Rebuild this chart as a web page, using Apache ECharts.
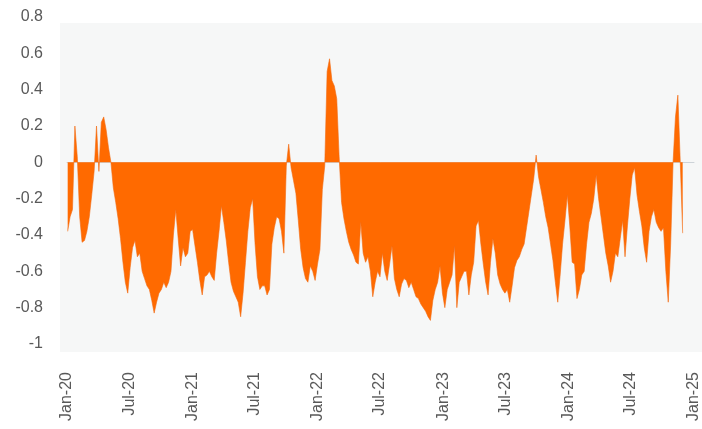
<!DOCTYPE html>
<html>
<head>
<meta charset="utf-8">
<script src="https://cdn.jsdelivr.net/npm/echarts@6/dist/echarts.min.js"></script>
<style>
html,body{margin:0;padding:0;background:#fff;}
#chart{width:702px;height:429px;}
</style>
</head>
<body>
<div id="chart"></div>
<script>
// Weekly observations starting 2020-01-03
var startDate = '2020-01-03';
var weeklyValues = [
-0.38,-0.30,-0.26,0.20,0.03,-0.30,-0.44,-0.43,-0.38,-0.30,
-0.18,-0.05,0.20,-0.05,0.22,0.25,0.18,0.08,0.00,-0.14,
-0.22,-0.31,-0.42,-0.55,-0.66,-0.72,-0.58,-0.47,-0.43,-0.52,
-0.50,-0.60,-0.64,-0.68,-0.70,-0.76,-0.83,-0.77,-0.72,-0.70,
-0.66,-0.69,-0.66,-0.60,-0.40,-0.26,-0.42,-0.57,-0.47,-0.52,
-0.50,-0.38,-0.37,-0.46,-0.55,-0.65,-0.73,-0.63,-0.62,-0.60,
-0.63,-0.65,-0.50,-0.38,-0.24,-0.33,-0.43,-0.55,-0.66,-0.71,
-0.74,-0.77,-0.85,-0.72,-0.55,-0.38,-0.25,-0.20,-0.45,-0.63,
-0.70,-0.68,-0.68,-0.73,-0.70,-0.45,-0.36,-0.30,-0.31,-0.38,
-0.50,-0.02,0.10,-0.03,-0.10,-0.17,-0.32,-0.48,-0.58,-0.64,
-0.66,-0.57,-0.60,-0.65,-0.56,-0.48,-0.15,-0.02,0.50,0.57,
0.45,0.42,0.35,0.03,-0.22,-0.31,-0.38,-0.44,-0.48,-0.51,
-0.55,-0.56,-0.33,-0.50,-0.55,-0.52,-0.60,-0.74,-0.66,-0.60,
-0.63,-0.50,-0.60,-0.65,-0.56,-0.46,-0.64,-0.70,-0.74,-0.67,
-0.64,-0.65,-0.69,-0.66,-0.70,-0.74,-0.75,-0.78,-0.80,-0.82,
-0.85,-0.87,-0.76,-0.70,-0.66,-0.57,-0.72,-0.80,-0.70,-0.66,
-0.62,-0.46,-0.80,-0.66,-0.63,-0.60,-0.60,-0.73,-0.62,-0.55,
-0.35,-0.32,-0.45,-0.56,-0.66,-0.73,-0.55,-0.42,-0.50,-0.62,
-0.67,-0.70,-0.72,-0.70,-0.77,-0.68,-0.58,-0.54,-0.52,-0.48,
-0.45,-0.36,-0.27,-0.18,-0.09,0.04,-0.08,-0.15,-0.22,-0.30,
-0.36,-0.45,-0.54,-0.66,-0.77,-0.62,-0.45,-0.32,-0.18,-0.35,
-0.55,-0.56,-0.75,-0.70,-0.62,-0.60,-0.45,-0.33,-0.28,-0.20,
-0.07,-0.20,-0.30,-0.40,-0.50,-0.57,-0.66,-0.60,-0.50,-0.52,
-0.42,-0.32,-0.52,-0.35,-0.20,-0.07,-0.03,-0.18,-0.27,-0.35,
-0.47,-0.55,-0.38,-0.30,-0.26,-0.33,-0.36,-0.38,-0.36,-0.60,
-0.77,-0.45,0.00,0.25,0.37,0.00,-0.39
];
var tickLabels = ['Jan-20','Jul-20','Jan-21','Jul-21','Jan-22','Jul-22','Jan-23','Jul-23','Jan-24','Jul-24','Jan-25'];
var tickDates = ['2020-01-01','2020-07-01','2021-01-01','2021-07-01','2022-01-01','2022-07-01','2023-01-01','2023-07-01','2024-01-01','2024-07-01','2025-01-01'];
var yTicks = [0.8,0.6,0.4,0.2,0,-0.2,-0.4,-0.6,-0.8,-1];

function parseLocal(s){var p=s.split('-');return new Date(+p[0],+p[1]-1,+p[2]).getTime();}
var t0 = parseLocal(startDate);
var seriesData = weeklyValues.map(function(v,i){
  var d = new Date(t0); d.setDate(d.getDate()+7*i);
  return [d.getTime(), v];
});
var tickTimes = tickDates.map(parseLocal);
var labelMap = {};
tickTimes.forEach(function(t,i){labelMap[t]=tickLabels[i];});

var chart = echarts.init(document.getElementById('chart'), null, {renderer:'canvas'});
chart.setOption({
  animation:false,
  backgroundColor:'#ffffff',
  textStyle:{fontFamily:'"Liberation Sans", Arial, sans-serif'},
  graphic:[{type:'rect',z:-10,silent:true,shape:{x:60,y:23,width:642,height:329},style:{fill:'#f6f7f7'}}],
  grid:{left:67,right:0,top:17,bottom:85,containLabel:false},
  xAxis:{
    type:'value',
    min:tickTimes[0],
    max:tickTimes[tickTimes.length-1],
    axisLine:{show:true,onZero:true,lineStyle:{color:'#cdd3d8',width:1}},
    axisTick:{show:false},
    splitLine:{show:false},
    axisLabel:{
      customValues:tickTimes,
      rotate:90,
      margin:28,
      color:'#595959',
      fontSize:16,
      fontFamily:'"Liberation Sans", Arial, sans-serif',
      formatter:function(v){return labelMap[v]!==undefined?labelMap[v]:'';},
      hideOverlap:false
    }
  },
  yAxis:{
    type:'value',
    min:-1,
    max:0.8,
    interval:0.2,
    axisLine:{show:false},
    axisTick:{show:false},
    splitLine:{show:false},
    axisLabel:{
      color:'#595959',
      fontSize:16,
      margin:24,
      fontFamily:'"Liberation Sans", Arial, sans-serif',
      formatter:function(v){var r=Math.round(v*10)/10;return String(r);}
    }
  },
  series:[{
    type:'line',
    data:seriesData,
    symbol:'none',
    lineStyle:{width:0.6,color:'#f26a10'},
    itemStyle:{color:'#ff6a00'},
    areaStyle:{color:'#ff6a00',opacity:1},
    z:3
  }]
});
</script>
</body>
</html>
